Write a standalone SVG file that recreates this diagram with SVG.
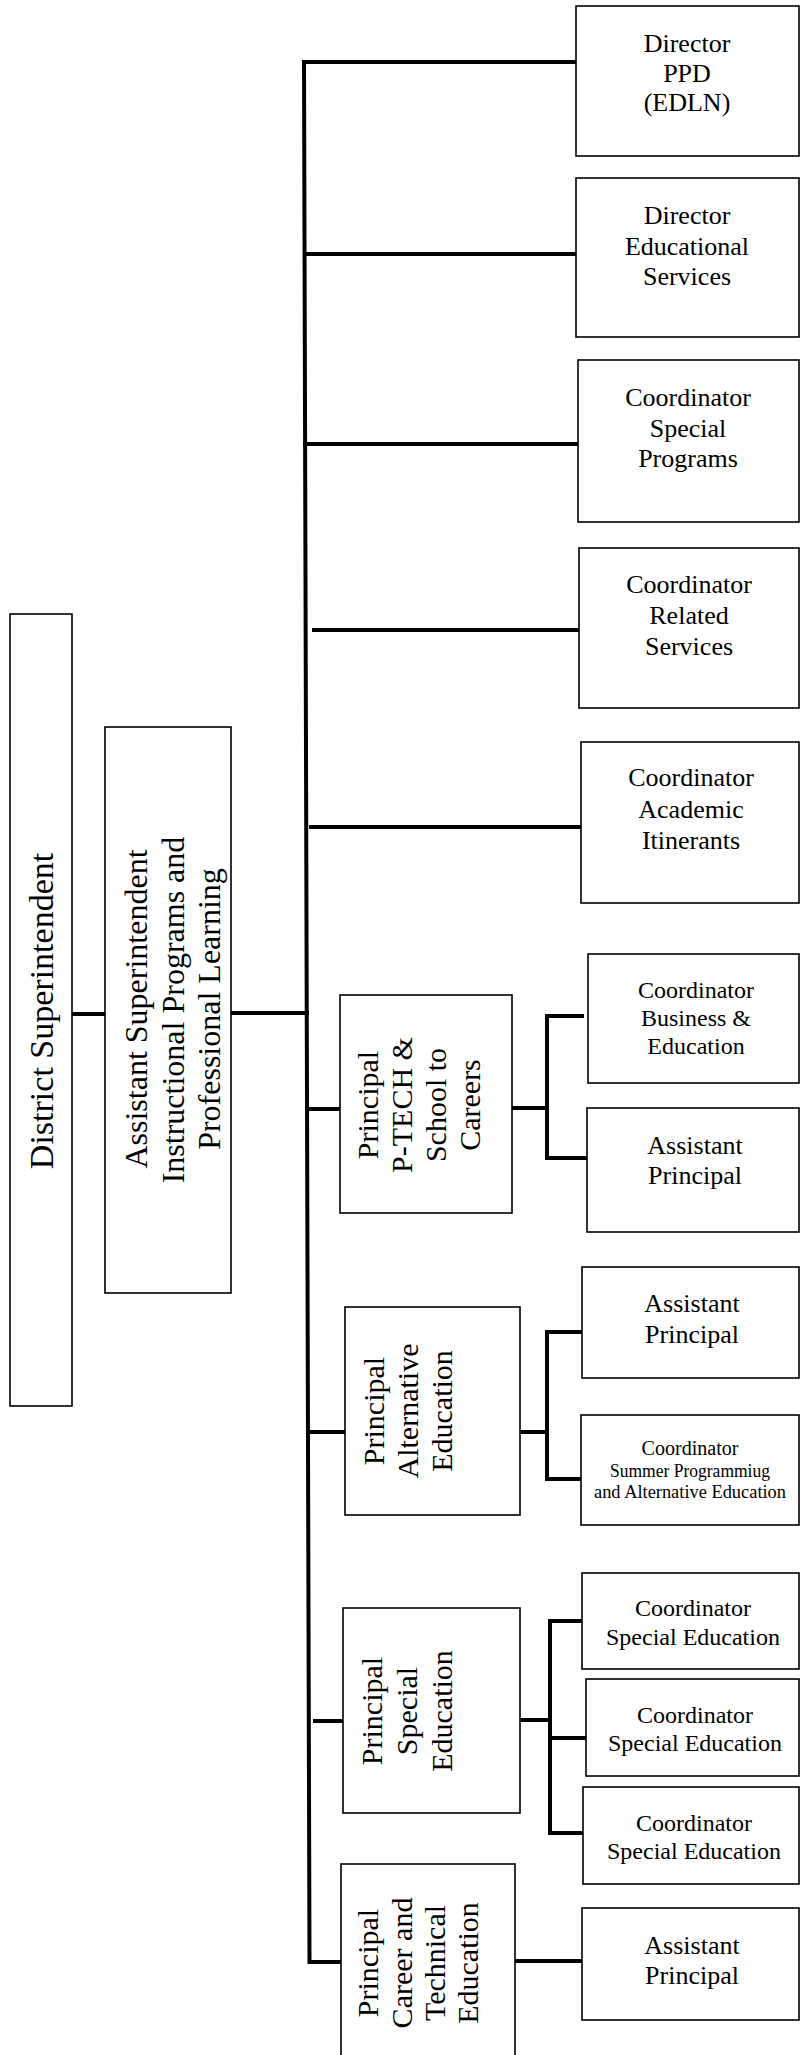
<svg xmlns="http://www.w3.org/2000/svg" width="801" height="2055" viewBox="0 0 801 2055">
<style>
.box{fill:#fff;stroke:#000;stroke-width:1.6}
.c{fill:none;stroke:#000;stroke-width:4;stroke-linecap:square}
text{font-family:"Liberation Serif","Times New Roman",serif;fill:#000;text-anchor:middle}
.t26{font-size:26px}
.t24{font-size:24px}
.r30{font-size:30px}
</style>
<rect width="801" height="2055" fill="#fff"/>
<g id="connectors">
<path class="c" d="M576 62 H304 L309.5 1962 H341"/>
<path class="c" d="M305 254 H576"/>
<path class="c" d="M305 444 H578"/>
<path class="c" d="M314 630 H579"/>
<path class="c" d="M311 827 H581"/>
<path class="c" d="M72 1014 H105"/>
<path class="c" d="M231 1013 H307"/>
<path class="c" d="M307 1109 H340"/>
<path class="c" d="M308 1432 H345"/>
<path class="c" d="M315 1721 H343"/>
<path class="c" d="M512 1108 H547"/>
<path class="c" d="M582 1016 H547 V1158 H587"/>
<path class="c" d="M520 1432 H547"/>
<path class="c" d="M582 1332 H547 V1479 H581"/>
<path class="c" d="M520 1720 H550"/>
<path class="c" d="M582 1621 H550 V1833 H583"/>
<path class="c" d="M550 1738 H586"/>
<path class="c" d="M515 1961 H582"/>
</g>
<g id="district">
<rect class="box" x="10" y="614" width="62" height="792"/>
<text transform="translate(53,1011) rotate(-90)" font-size="34">District Superintendent</text>
</g>
<g id="asst-super">
<rect class="box" x="105" y="727" width="126" height="566"/>
<text transform="translate(147,1009) rotate(-90)" font-size="32">Assistant Superintendent</text>
<text transform="translate(183.5,1010) rotate(-90)" font-size="32">Instructional Programs and</text>
<text transform="translate(220,1009) rotate(-90)" font-size="32">Professional Learning</text>
</g>
<g id="dir-ppd">
<rect class="box" x="576" y="6" width="223" height="150"/>
<text class="t26" x="687" y="52">Director</text>
<text class="t26" x="687" y="82">PPD</text>
<text class="t26" x="687" y="111">(EDLN)</text>
</g>
<g id="dir-es">
<rect class="box" x="576" y="178" width="223" height="159"/>
<text class="t26" x="687" y="224">Director</text>
<text class="t26" x="687" y="255">Educational</text>
<text class="t26" x="687" y="285">Services</text>
</g>
<g id="coord-sp">
<rect class="box" x="578" y="360" width="221" height="162"/>
<text class="t26" x="688" y="406">Coordinator</text>
<text class="t26" x="688" y="437">Special</text>
<text class="t26" x="688" y="467">Programs</text>
</g>
<g id="coord-rs">
<rect class="box" x="579" y="548" width="220" height="160"/>
<text class="t26" x="689" y="593">Coordinator</text>
<text class="t26" x="689" y="624">Related</text>
<text class="t26" x="689" y="655">Services</text>
</g>
<g id="coord-ai">
<rect class="box" x="581" y="742" width="218" height="161"/>
<text class="t26" x="691" y="786">Coordinator</text>
<text class="t26" x="691" y="818">Academic</text>
<text class="t26" x="691" y="849">Itinerants</text>
</g>
<g id="principal-ptech">
<rect class="box" x="340" y="995" width="172" height="218"/>
<text class="r30" transform="translate(378,1105) rotate(-90)">Principal</text>
<text class="r30" transform="translate(412,1105) rotate(-90)">P-TECH &amp;</text>
<text class="r30" transform="translate(446,1105) rotate(-90)">School to</text>
<text class="r30" transform="translate(480,1105) rotate(-90)">Careers</text>
</g>
<g id="coord-be">
<rect class="box" x="588" y="954" width="211" height="129"/>
<text class="t24" x="696" y="998">Coordinator</text>
<text class="t24" x="696" y="1026">Business &amp;</text>
<text class="t24" x="696" y="1054">Education</text>
</g>
<g id="ap-ptech">
<rect class="box" x="587" y="1108" width="212" height="124"/>
<text class="t26" x="695" y="1154">Assistant</text>
<text class="t26" x="695" y="1184">Principal</text>
</g>
<g id="principal-alt">
<rect class="box" x="345" y="1307" width="175" height="208"/>
<text class="r30" transform="translate(384,1411) rotate(-90)">Principal</text>
<text class="r30" transform="translate(418,1411) rotate(-90)">Alternative</text>
<text class="r30" transform="translate(452,1411) rotate(-90)">Education</text>
</g>
<g id="ap-alt">
<rect class="box" x="582" y="1267" width="217" height="111"/>
<text class="t26" x="692" y="1312">Assistant</text>
<text class="t26" x="692" y="1343">Principal</text>
</g>
<g id="coord-summer">
<rect class="box" x="581" y="1415" width="218" height="110"/>
<text x="690" y="1455" font-size="20" textLength="97" lengthAdjust="spacingAndGlyphs">Coordinator</text>
<text x="690" y="1477" font-size="19" textLength="160" lengthAdjust="spacingAndGlyphs">Summer Programmiug</text>
<text x="690" y="1498" font-size="19" textLength="192" lengthAdjust="spacingAndGlyphs">and Alternative Education</text>
</g>
<g id="principal-sped">
<rect class="box" x="343" y="1608" width="177" height="205"/>
<text class="r30" transform="translate(382,1711) rotate(-90)">Principal</text>
<text class="r30" transform="translate(417,1711) rotate(-90)">Special</text>
<text class="r30" transform="translate(452,1711) rotate(-90)">Education</text>
</g>
<g id="coord-sped-1">
<rect class="box" x="582" y="1573" width="217" height="96"/>
<text class="t24" x="693" y="1616">Coordinator</text>
<text class="t24" x="693" y="1645">Special Education</text>
</g>
<g id="coord-sped-2">
<rect class="box" x="586" y="1679" width="213" height="97"/>
<text class="t24" x="695" y="1723">Coordinator</text>
<text class="t24" x="695" y="1751">Special Education</text>
</g>
<g id="coord-sped-3">
<rect class="box" x="583" y="1787" width="216" height="97"/>
<text class="t24" x="694" y="1831">Coordinator</text>
<text class="t24" x="694" y="1859">Special Education</text>
</g>
<g id="principal-cte">
<rect class="box" x="341" y="1864" width="174" height="200"/>
<text class="r30" transform="translate(378,1963) rotate(-90)">Principal</text>
<text class="r30" transform="translate(412,1963) rotate(-90)">Career and</text>
<text class="r30" transform="translate(445,1963) rotate(-90)">Technical</text>
<text class="r30" transform="translate(478,1963) rotate(-90)">Education</text>
</g>
<g id="ap-cte">
<rect class="box" x="582" y="1908" width="217" height="112"/>
<text class="t26" x="692" y="1954">Assistant</text>
<text class="t26" x="692" y="1984">Principal</text>
</g>
</svg>
